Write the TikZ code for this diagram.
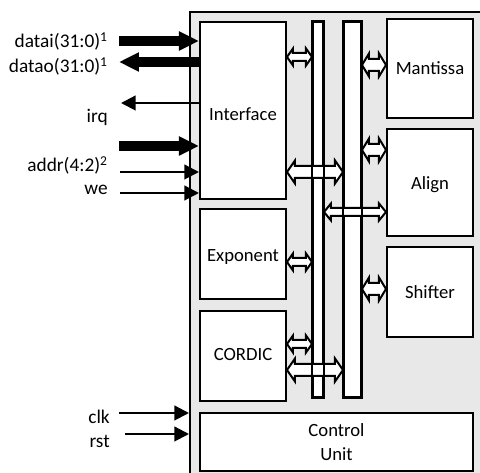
\documentclass[tikz,border=0pt]{standalone}
\usepackage{fontspec}
\setmainfont{Carlito}
\usetikzlibrary{arrows.meta,calc,fit}
\definecolor{panel}{HTML}{E8E8E8}
\tikzset{
 blk/.style={draw=black, fill=white, line width=1.5pt, inner sep=0pt},
 blktext/.style={inner sep=0pt, font=\fontsize{14}{17.5}\selectfont},
 busbar/.style={draw=black, fill=white, line width=1.5pt, inner sep=0pt},
 busline/.style={draw=black, line width=1.5pt},
 lbl/.style={anchor=base east, inner sep=0pt, font=\fontsize{14.5}{17}\selectfont},
 fatsig/.style={line width=7.5pt, -{Triangle[length=15pt,width=13.5pt]}},
 thinsig/.style={line width=1.6pt, -{Triangle[length=11pt,width=11pt]}},
 blockarrow/.style={draw=black, fill=white, line width=1.5pt, line join=miter},
}
% double block arrow: left anchor, right anchor, y, shaft half, head half, head length
\newcommand\dblarrow[6]{%
 \coordinate (bA) at (#1 |- 0,#3);
 \coordinate (bB) at (#2 |- 0,#3);
 \draw[blockarrow] (bA) -- ($(bA)+(#6,-#5)$) -- ($(bA)+(#6,-#4)$) -- ($(bB)+(-#6,-#4)$) -- ($(bB)+(-#6,-#5)$) -- (bB) -- ($(bB)+(-#6,#5)$) -- ($(bB)+(-#6,#4)$) -- ($(bA)+(#6,#4)$) -- ($(bA)+(#6,#5)$) -- cycle;}
\begin{document}
\begin{tikzpicture}[x=0.75pt,y=-0.75pt]
\useasboundingbox (0,0) rectangle (480,473);
\clip (0,0) rectangle (480,473);
% chip panel
\node[fit={(190,12)(520,520)}, inner sep=0pt, fill=panel, draw=black, line width=1.5pt] (chip) {};
% blocks
\node[blk, fit={(200,22)(286,199)}] (iface) {};
\node[blk, fit={(200,209)(286,299)}] (expo) {};
\node[blk, fit={(200,311)(286,401)}] (cordic) {};
\node[blk, fit={(200,413)(473,471)}] (ctrl) {};
\node[blk, fit={(387,19)(473,118)}] (mant) {};
\node[blk, fit={(387,129)(473,236)}] (align) {};
\node[blk, fit={(387,247)(473,337)}] (shift) {};
\node[blktext] (ifaceT) at ($(iface.center)+(0,4)$) {Interface};
\node[blktext] (expoT) at ($(expo.center)+(0,3)$) {Exponent};
\node[blktext] (cordicT) at ($(cordic.center)+(0,-1)$) {CORDIC};
\node[blktext] (mantT) at ($(mant.center)+(0,0)$) {Mantissa};
\node[blktext] (alignT) at ($(align.center)+(0,2)$) {Align};
\node[blktext] (shiftT) at ($(shift.center)+(0,0)$) {Shifter};
\node[blktext, align=center] (ctrlT) at ($(ctrl.center)+(0,0)$) {Control\\Unit};
% buses
\node[busbar, fit={(313,22)(323,397)}] (bus1) {};
\node[busbar, fit={(344,22)(361,397)}] (bus2) {};
% block arrows
\dblarrow{iface.east}{bus1.west}{57}{4}{8.5}{6}
\dblarrow{bus2.east}{mant.west}{65}{6}{11.5}{7}
\dblarrow{bus2.east}{align.west}{150}{6}{11.5}{7}
\dblarrow{iface.east}{bus2.west}{172}{6}{11.5}{8}
\dblarrow{bus1.east}{align.west}{212}{4}{8.5}{7}
\dblarrow{expo.east}{bus1.west}{262}{4}{8.5}{6}
\dblarrow{bus2.east}{shift.west}{289}{6}{11.5}{7}
\dblarrow{cordic.east}{bus1.west}{344}{4}{8.5}{6}
\dblarrow{cordic.east}{bus2.west}{370}{6}{11.5}{8}
% bus outlines over crossing arrows
\draw[busline] (bus1.north west) rectangle (bus1.south east);
\draw[busline] (bus2.north west) rectangle (bus2.south east);
% signal labels
\node[lbl] (ldatai) at (108,48) {datai(31:0)\textsuperscript{1}};
\node[lbl] (ldatao) at (108,73) {datao(31:0)\textsuperscript{1}};
\node[lbl] (lirq) at (108,123) {irq};
\node[lbl] (laddr) at (108,172) {addr(4:2)\textsuperscript{2}};
\node[lbl] (lwe) at (108,195) {we};
\node[lbl] (lclk) at (110,424) {clk};
\node[lbl] (lrst) at (110,448) {rst};
% signal arrows
\coordinate (sdatai) at (119,41);
\coordinate (sdatao) at (119,62);
\coordinate (sirq) at (121,103);
\coordinate (sbus) at (119,146);
\coordinate (saddr) at (120,172);
\coordinate (swe) at (120,193);
\coordinate (sclk) at (119,413);
\coordinate (srst) at (125,434);
\draw[fatsig] (sdatai) -- (sdatai -| iface.west);
\draw[fatsig] (sdatao -| iface.west) -- (sdatao);
\draw[thinsig] (sirq -| iface.west) -- (sirq);
\draw[fatsig] (sbus) -- (sbus -| iface.west);
\draw[thinsig] (saddr) -- (saddr -| iface.west);
\draw[thinsig] (swe) -- (swe -| iface.west);
\draw[thinsig] (sclk) -- (sclk -| chip.west);
\draw[thinsig] (srst) -- (srst -| chip.west);
\end{tikzpicture}
\end{document}
